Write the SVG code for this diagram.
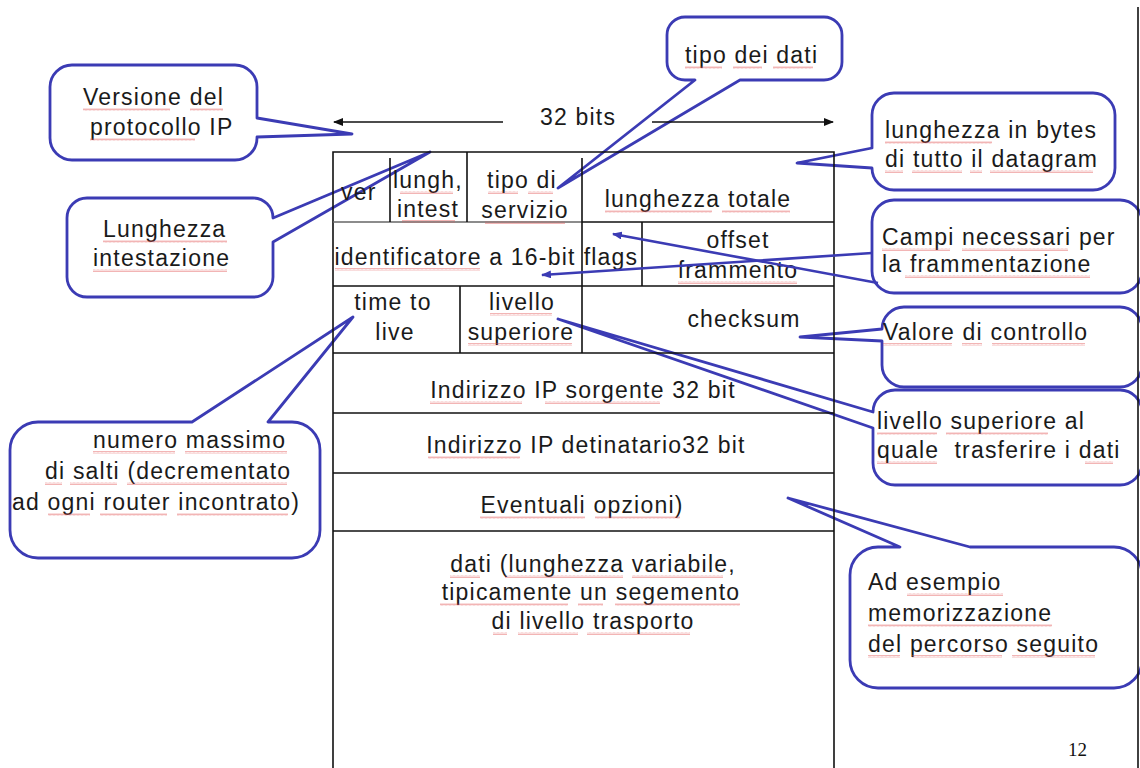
<svg xmlns="http://www.w3.org/2000/svg" width="1140" height="768" viewBox="0 0 1140 768">
<style>
.t{font-family:"Liberation Sans",Arial,sans-serif;font-size:23px;letter-spacing:1.2px;fill:#1a1a1a}
.c{text-anchor:middle}
.co{fill:#fff;stroke:#3b3bb4;stroke-width:2.8;stroke-linejoin:round}
.tb{stroke:#111;stroke-width:1.6;fill:none}
.ar{stroke:#111;stroke-width:1.6;fill:none}
.bl{stroke:#3b3bb4;stroke-width:2.6;fill:none}
.sq{opacity:0.7}
.sq rect{fill:url(#wavy);height:3px}
</style>
<defs>
<pattern id="wavy" width="4" height="3" patternUnits="userSpaceOnUse">
<path d="M0,2.5 L1,0.5 L2,2.5 L3,0.5 L4,2.5" stroke="#e05050" stroke-width="0.6" fill="none"/>
</pattern>
<marker id="ah" viewBox="0 0 10 8" refX="9" refY="4" markerWidth="10" markerHeight="8" markerUnits="userSpaceOnUse" orient="auto">
<path d="M0,0 L10,4 L0,8 Z" fill="#111"/>
</marker>
<marker id="ahb" viewBox="0 0 10 8" refX="9" refY="4" markerWidth="10" markerHeight="8" markerUnits="userSpaceOnUse" orient="auto">
<path d="M0,0 L10,4 L0,8 Z" fill="#3b3bb4"/>
</marker>
</defs>
<rect width="1140" height="768" fill="#fff"/>

<g id="callout-versione">
<path class="co" d="M72,65 H235 A22,22 0 0 1 257,87 V118 L352,134 L257,137 V138 A22,22 0 0 1 235,160 H72 A22,22 0 0 1 50,138 V87 A22,22 0 0 1 72,65 Z"/>
<text class="t" x="83" y="105">Versione del</text>
<text class="t" x="90" y="135">protocollo IP</text>
</g>
<g id="callout-lunghezza-intestazione">
<path class="co" d="M87,198 H253 A20,20 0 0 1 273,218 L430,152 L273,242 V277 A20,20 0 0 1 253,297 H87 A20,20 0 0 1 67,277 V218 A20,20 0 0 1 87,198 Z"/>
<text class="t" x="103" y="237">Lunghezza</text>
<text class="t" x="93" y="266">intestazione</text>
</g>
<g id="callout-tipo-dati">
<path class="co" d="M685,17 H824 A18,18 0 0 1 842,35 V62 A18,18 0 0 1 824,80 H740 L558,188 L695,80 H685 A18,18 0 0 1 667,62 V35 A18,18 0 0 1 685,17 Z"/>
<text class="t" x="685" y="63">tipo dei dati</text>
</g>
<g id="callout-lunghezza-bytes">
<path class="co" d="M894,93 H1093 A22,22 0 0 1 1115,115 V168 A22,22 0 0 1 1093,190 H894 A22,22 0 0 1 872,168 L797,163 L872,148 V115 A22,22 0 0 1 894,93 Z"/>
<text class="t" x="885" y="138">lunghezza in bytes</text>
<text class="t" x="885" y="167">di tutto il datagram</text>
</g>
<g id="callout-campi">
<rect class="co" x="872" y="200" width="270" height="93" rx="22"/>
<text class="t" x="882" y="245">Campi necessari per</text>
<text class="t" x="882" y="272">la frammentazione</text>
</g>
<g id="callout-valore">
<path class="co" d="M904,307 H1120 A22,22 0 0 1 1142,329 V365 A22,22 0 0 1 1120,387 H904 A22,22 0 0 1 882,365 V341 L800,337 L882,329 A22,22 0 0 1 904,307 Z"/>
<text class="t" x="883" y="340">Valore di controllo</text>
</g>
<g id="callout-livello">
<path class="co" d="M895,390 H1120 A22,22 0 0 1 1142,412 V463 A22,22 0 0 1 1120,485 H895 A22,22 0 0 1 873,463 V428 L558,319 L873,412 A22,22 0 0 1 895,390 Z"/>
<text class="t" x="877" y="429">livello superiore al</text>
<text class="t" x="877" y="458" xml:space="preserve">quale  trasferire i dati</text>
</g>
<g id="callout-numero-salti">
<path class="co" d="M38,422 H192 L353,317 L268,422 H292 A28,28 0 0 1 320,450 V530 A28,28 0 0 1 292,558 H38 A28,28 0 0 1 10,530 V450 A28,28 0 0 1 38,422 Z"/>
<text class="t" x="93" y="448">numero massimo</text>
<text class="t" x="45" y="479">di salti (decrementato</text>
<text class="t" x="12" y="510">ad ogni router incontrato)</text>
</g>
<g id="callout-esempio">
<path class="co" d="M878,547 H900 L788,498 L970,547 H1114 A28,28 0 0 1 1142,575 V660 A28,28 0 0 1 1114,688 H878 A28,28 0 0 1 850,660 V575 A28,28 0 0 1 878,547 Z"/>
<text class="t" x="868" y="590">Ad esempio</text>
<text class="t" x="868" y="621">memorizzazione</text>
<text class="t" x="868" y="652">del percorso seguito</text>
</g>

<g id="datagram">
<g id="frame">
<path class="tb" d="M333,768 V152 H834 V768"/>
<line x1="333" y1="222" x2="582" y2="222" stroke="#666" stroke-width="1.4"/>
<line class="tb" x1="582" y1="222" x2="834" y2="222"/>
<line class="tb" x1="333" y1="286" x2="834" y2="286"/>
<line class="tb" x1="333" y1="353" x2="834" y2="353"/>
<line class="tb" x1="333" y1="413" x2="834" y2="413"/>
<line class="tb" x1="333" y1="473" x2="834" y2="473"/>
<line class="tb" x1="333" y1="531" x2="834" y2="531"/>
</g>
<g id="row-1">
<line class="tb" x1="390" y1="158" x2="390" y2="222"/>
<line class="tb" x1="467" y1="152" x2="467" y2="222"/>
<line class="tb" x1="582" y1="158" x2="582" y2="222"/>
<text class="t" x="341" y="200">ver</text>
<text class="t c" x="428" y="188">lungh,</text>
<text class="t c" x="428" y="217">intest</text>
<text class="t c" x="522" y="188">tipo di</text>
<text class="t c" x="525" y="218">servizio</text>
<text class="t c" x="698" y="207">lunghezza totale</text>
</g>
<g id="row-2">
<line class="tb" x1="582" y1="222" x2="582" y2="286"/>
<line class="tb" x1="642" y1="222" x2="642" y2="286"/>
<text class="t c" x="455" y="265">identificatore a 16-bit</text>
<text class="t c" x="611" y="265">flags</text>
<text class="t c" x="738" y="248">offset</text>
<text class="t c" x="738" y="278">frammento</text>
</g>
<g id="row-3">
<line class="tb" x1="460" y1="286" x2="460" y2="353"/>
<line class="tb" x1="582" y1="286" x2="582" y2="353"/>
<text class="t c" x="393" y="310">time to</text>
<text class="t c" x="395" y="340">live</text>
<text class="t c" x="522" y="310">livello</text>
<text class="t c" x="521" y="340">superiore</text>
<text class="t c" x="744" y="327">checksum</text>
</g>
<g id="row-4"><text class="t c" x="583" y="398">Indirizzo IP sorgente 32 bit</text></g>
<g id="row-5"><text class="t c" x="586" y="453">Indirizzo IP detinatario32 bit</text></g>
<g id="row-6"><text class="t c" x="582" y="513">Eventuali opzioni)</text></g>
<g id="row-7">
<text class="t c" x="593" y="572">dati (lunghezza variabile,</text>
<text class="t c" x="591" y="600">tipicamente un segemento</text>
<text class="t c" x="593" y="629">di livello trasporto</text>
</g>
</g>

<g id="width-label">
<text class="t" x="540" y="125">32 bits</text>
</g>

<g id="connectors">
<line class="ar" x1="503" y1="122" x2="334" y2="122" marker-end="url(#ah)"/>
<line class="ar" x1="652" y1="122" x2="833" y2="122" marker-end="url(#ah)"/>
<line class="bl" x1="872" y1="253" x2="542" y2="275" marker-end="url(#ahb)"/>
<line class="bl" x1="878" y1="283" x2="613" y2="234" marker-end="url(#ahb)"/>
</g>

<g id="spellcheck" class="sq">
<rect x="83" y="108" width="87"/><rect x="190" y="108" width="33"/><rect x="90" y="138" width="105"/>
<rect x="103" y="240" width="124"/><rect x="93" y="269" width="134"/>
<rect x="685" y="66" width="37"/><rect x="733" y="66" width="29"/><rect x="773" y="66" width="40"/>
<rect x="885" y="141" width="107"/><rect x="885" y="170" width="18"/><rect x="912" y="170" width="50"/><rect x="970" y="170" width="12"/><rect x="990" y="170" width="103"/>
<rect x="882" y="248" width="68"/><rect x="962" y="248" width="106"/><rect x="905" y="275" width="185"/>
<rect x="883" y="343" width="69"/><rect x="962" y="343" width="20"/><rect x="992" y="343" width="93"/>
<rect x="877" y="432" width="60"/><rect x="946" y="432" width="102"/><rect x="877" y="461" width="60"/><rect x="1085" y="461" width="28"/>
<rect x="93" y="451" width="82"/><rect x="185" y="451" width="102"/><rect x="45" y="482" width="17"/><rect x="70" y="482" width="47"/><rect x="127" y="482" width="160"/><rect x="48" y="513" width="42"/><rect x="100" y="513" width="67"/><rect x="177" y="513" width="111"/>
<rect x="907" y="593" width="96"/><rect x="868" y="624" width="184"/><rect x="868" y="655" width="32"/><rect x="912" y="655" width="90"/><rect x="1012" y="655" width="83"/>
<rect x="400" y="191" width="53"/><rect x="402" y="220" width="53"/><rect x="488" y="191" width="30"/><rect x="528" y="191" width="25"/><rect x="485" y="221" width="80"/>
<rect x="605" y="210" width="107"/><rect x="722" y="210" width="68"/>
<rect x="335" y="268" width="145"/><rect x="678" y="281" width="119"/>
<rect x="490" y="313" width="62"/><rect x="468" y="343" width="104"/>
<rect x="430" y="401" width="92"/><rect x="545" y="401" width="115"/><rect x="428" y="456" width="92"/>
<rect x="480" y="516" width="105"/><rect x="595" y="516" width="85"/>
<rect x="450" y="575" width="30"/><rect x="505" y="575" width="118"/><rect x="632" y="575" width="91"/>
<rect x="440" y="603" width="128"/><rect x="578" y="603" width="25"/><rect x="615" y="603" width="125"/>
<rect x="493" y="632" width="14"/><rect x="518" y="632" width="60"/><rect x="587" y="632" width="103"/>
</g>

<g id="page-edge">
<line x1="1138" y1="7" x2="1138" y2="768" stroke="#111" stroke-width="1.6"/>
<text x="1068" y="756" font-family="Liberation Serif,Times New Roman,serif" font-size="19" fill="#111">12</text>
</g>
</svg>
